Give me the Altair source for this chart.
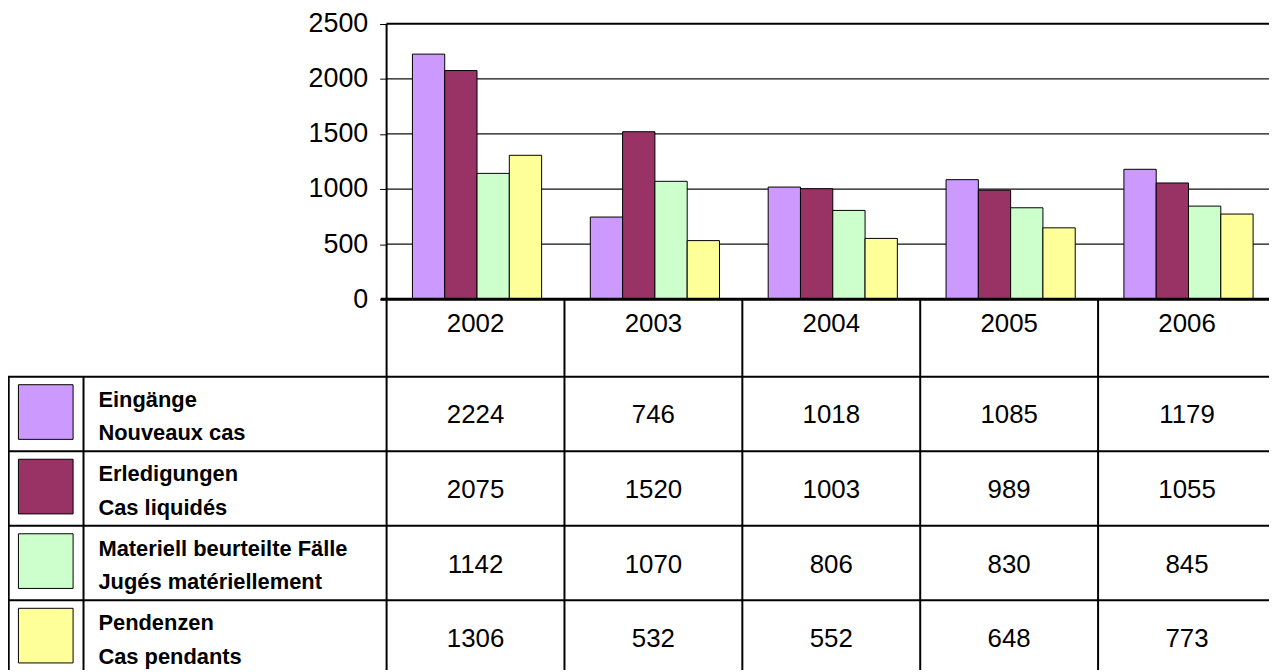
import altair as alt
import pandas as pd

# ---------------- data ----------------
years = ["2002", "2003", "2004", "2005", "2006"]
series_de = ["Eingänge", "Erledigungen", "Materiell beurteilte Fälle", "Pendenzen"]
series_fr = ["Nouveaux cas", "Cas liquidés", "Jugés matériellement", "Cas pendants"]
eingaenge = [2224, 746, 1018, 1085, 1179]
erledigungen = [2075, 1520, 1003, 989, 1055]
materiell = [1142, 1070, 806, 830, 845]
pendenzen = [1306, 532, 552, 648, 773]
y_ticks = [0, 500, 1000, 1500, 2000, 2500]
grid_vals = [500, 1000, 1500, 2000]

# ---------------- style / layout ----------------
colors = ["#CC99FF", "#993366", "#CCFFCC", "#FFFF99"]
W, H = 1269, 664            # plot area = whole chart (page margin 8px)
AXIS_PX = 389               # screen x of the value axis
BAND_PX = 179               # width of one year band
Y0_PX, YTOP_PX = 299, 21.7  # screen y of 0 and 2500
HEADER_BOTTOM = 377         # bottom of the year header row
ROW_PX = 75
SW_DIV_PX = 84              # divider between swatch and label columns
BAR_START, BAR_W = 26 / BAND_PX, 32.5 / BAND_PX

def ux(px):
    return (px - AXIS_PX) / BAND_PX

def uy(py):
    return (Y0_PX - py) * 2500 / (Y0_PX - YTOP_PX)

XMIN, XMAX = ux(8), ux(8 + W)
YMIN, YMAX = uy(8 + H), uy(8)
xs = alt.Scale(domain=[XMIN, XMAX], nice=False, zero=False)
ys = alt.Scale(domain=[YMIN, YMAX], nice=False, zero=False)
cs = alt.Scale(domain=series_de, range=colors)

FONT = "Liberation Sans, Arial, Helvetica, sans-serif"

Y_AX = alt.Axis(values=y_ticks, format="d", offset=-(AXIS_PX - 8), domain=False, grid=False,
                tickSize=7, tickColor="black", tickWidth=1, labelFontSize=27,
                labelFont=FONT, labelColor="black", labelPadding=12, title=None)

def X(f):
    return alt.X(f, type="quantitative", scale=xs, axis=None)

def Y(f):
    return alt.Y(f, type="quantitative", scale=ys, axis=Y_AX)

def rules(df, width, color="black"):
    return alt.Chart(df).mark_rule(color=color, strokeWidth=width).encode(
        x=X("x"), x2="x2:Q", y=Y("y"), y2="y2:Q")

# ---------------- layers ----------------
all_vals = [eingaenge, erledigungen, materiell, pendenzen]
bar_rows = []
for si, (name, vals) in enumerate(zip(series_de, all_vals)):
    for yi, v in enumerate(vals):
        bar_rows.append({"series": name, "si": si, "yi": yi, "value": v, "base": 0})
bars_df = pd.DataFrame(bar_rows)

bars = alt.Chart(bars_df).transform_calculate(
    x0=f"datum.yi + {BAR_START} + datum.si * {BAR_W}",
    x1=f"datum.yi + {BAR_START} + (datum.si + 1) * {BAR_W}",
).mark_rect(stroke="black", strokeWidth=1).encode(
    x=X("x0"), x2="x1:Q", y=Y("value"), y2="base:Q",
    color=alt.Color("series:N", scale=cs, legend=None),
)

# gridlines
grid = rules(pd.DataFrame({"y": grid_vals, "y2": grid_vals, "x": 0.0, "x2": XMAX}), 1.2, "#111")
top_line = rules(pd.DataFrame({"y": [y_ticks[-1]], "y2": [y_ticks[-1]], "x": [0.0], "x2": [XMAX]}), 2)
zero_line = rules(pd.DataFrame({"y": [0], "y2": [0], "x": [ux(383)], "x2": [XMAX]}), 3)

# vertical lines: value axis + year column boundaries
bnds = list(range(len(years)))
vlines = rules(pd.DataFrame({"x": bnds, "x2": bnds,
                             "y": [y_ticks[-1]] + [0] * (len(years) - 1),
                             "y2": [YMIN] * len(years)}), 2)

# left table borders
lx = [XMIN + 0.004, ux(SW_DIV_PX)]
left_v = rules(pd.DataFrame({"x": lx, "x2": lx, "y": [uy(HEADER_BOTTOM)] * 2, "y2": [YMIN] * 2}), 2)
hrows = [uy(HEADER_BOTTOM + ROW_PX * i) for i in range(len(series_de))]
hlines = rules(pd.DataFrame({"y": hrows, "y2": hrows, "x": XMIN, "x2": XMAX}), 2)

# year header
ydf = pd.DataFrame({"year": years, "x": [i + 0.5 for i in range(len(years))],
                    "y": [uy(323.5)] * len(years)})
year_text = alt.Chart(ydf).mark_text(font=FONT, fontSize=26, color="black", baseline="middle").encode(
    x=X("x"), y=Y("y"), text="year:N")

# values in table
val_rows = []
for si, vals in enumerate(all_vals):
    for yi, v in enumerate(vals):
        val_rows.append({"x": yi + 0.5, "y": uy(HEADER_BOTTOM + ROW_PX * si + 39), "t": str(v)})
val_text = alt.Chart(pd.DataFrame(val_rows)).mark_text(
    font=FONT, fontSize=26, color="black", baseline="middle").encode(
    x=X("x"), y=Y("y"), text="t:N")

# swatches
sw_df = pd.DataFrame({"series": series_de, "x": [ux(46)] * 4,
                      "y": [uy(HEADER_BOTTOM + ROW_PX * i + 35.5) for i in range(4)]})
swatches = alt.Chart(sw_df).mark_square(size=3025, opacity=1, stroke="black", strokeWidth=1).encode(
    x=X("x"), y=Y("y"), color=alt.Color("series:N", scale=cs, legend=None))

# labels
lab_rows = []
for i, (de, fr) in enumerate(zip(series_de, series_fr)):
    lab_rows.append({"t": de, "x": ux(99), "y": uy(HEADER_BOTTOM + ROW_PX * i + 30)})
    lab_rows.append({"t": fr, "x": ux(99), "y": uy(HEADER_BOTTOM + ROW_PX * i + 64)})
labels = alt.Chart(pd.DataFrame(lab_rows)).mark_text(
    font=FONT, fontSize=22, fontWeight="bold", color="black", align="left",
    baseline="alphabetic").encode(x=X("x"), y=Y("y"), text="t:N")

chart = alt.layer(
    grid, top_line, bars, vlines, zero_line, left_v, hlines,
    year_text, val_text, swatches, labels,
).properties(
    width=W, height=H, padding=0,
    autosize=alt.AutoSizeParams(type="none"),
).configure_view(stroke=None)

chart.save("out.html", embed_options={"renderer": "svg", "actions": False})
